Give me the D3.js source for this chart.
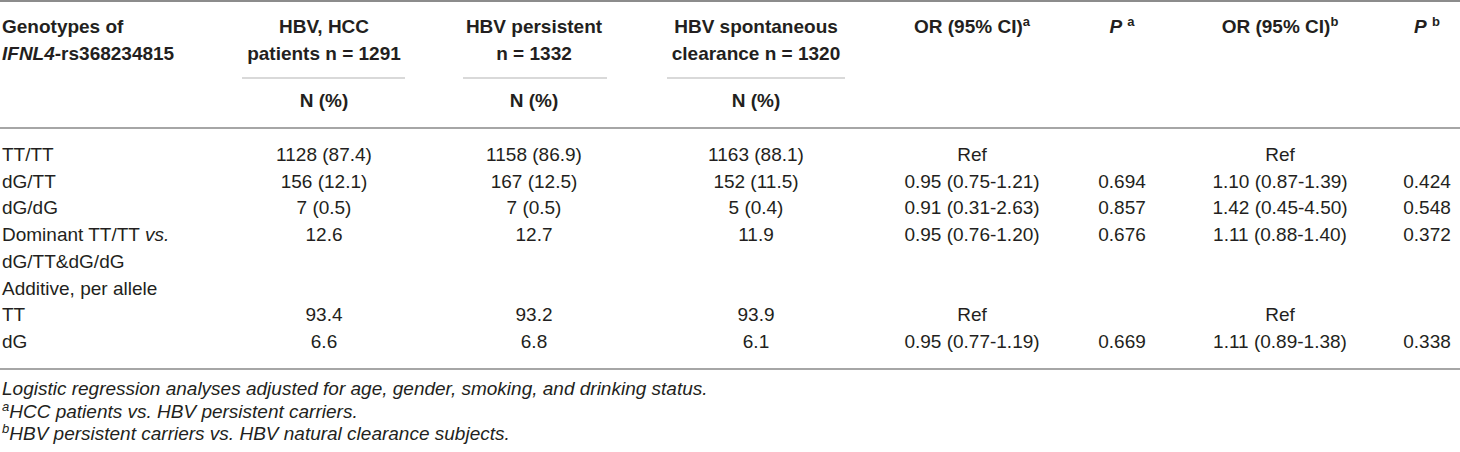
<!DOCTYPE html>
<head>
    <title>IFNL4-rs368234815 genotypes table</title>
    <meta charset="utf-8">
    <style>
        body { margin: 0; background: #fff; }
        text { font-family: "Liberation Sans", Arial, sans-serif; fill: #231f20; }
    </style>
</head>

<body>

<div id="chart"></div>

<script src="https://d3js.org/d3.v7.min.js"></script>

<script>

var width = 1460,
    height = 452;

// Row labels (first column)
var rowLabels = ["TT/TT", "dG/TT", "dG/dG", "Dominant TT/TT |vs.|", "dG/TT&dG/dG",
                 "Additive, per allele", "TT", "dG"];

// Group counts, N (%)
var hccValues = ["1128 (87.4)", "156 (12.1)", "7 (0.5)", "12.6", "", "", "93.4", "6.6"];
var persistentValues = ["1158 (86.9)", "167 (12.5)", "7 (0.5)", "12.7", "", "", "93.2", "6.8"];
var clearanceValues = ["1163 (88.1)", "152 (11.5)", "5 (0.4)", "11.9", "", "", "93.9", "6.1"];

// Odds ratios and P values
var orA = ["Ref", "0.95 (0.75-1.21)", "0.91 (0.31-2.63)", "0.95 (0.76-1.20)", "", "", "Ref", "0.95 (0.77-1.19)"];
var pA = ["", "0.694", "0.857", "0.676", "", "", "", "0.669"];
var orB = ["Ref", "1.10 (0.87-1.39)", "1.42 (0.45-4.50)", "1.11 (0.88-1.40)", "", "", "Ref", "1.11 (0.89-1.38)"];
var pB = ["", "0.424", "0.548", "0.372", "", "", "", "0.338"];

// Column headers: key, line 1, line 2
var columnKeys = ["hcc", "persistent", "clearance", "orA", "pA", "orB", "pB"];
var headerLine1 = ["HBV, HCC", "HBV persistent", "HBV spontaneous", "OR (95% CI)^a", "|P| ^a", "OR (95% CI)^b", "|P| ^b"];
var headerLine2 = ["patients n = 1291", "n = 1332", "clearance n = 1320", "", "", "", ""];
var subHeader = ["N (%)", "N (%)", "N (%)"];

// footnotes are set in italics
var footnotes = [
    "Logistic regression analyses adjusted for age, gender, smoking, and drinking status.",
    "^aHCC patients vs. HBV persistent carriers.",
    "^bHBV persistent carriers vs. HBV natural clearance subjects."
];

var columns = [hccValues, persistentValues, clearanceValues, orA, pA, orB, pB];

var svg = d3.select("#chart").append("svg")
    .attr("width", width)
    .attr("height", height);

// Scales
var x = d3.scaleOrdinal()
    .domain(columnKeys)
    .range([324, 534, 756, 972, 1122, 1280, 1427]);

// underline extents of the grouped columns
var spanX = d3.scaleOrdinal()
    .domain(["hcc", "persistent", "clearance"])
    .range([[242, 405], [463, 607], [667, 845]]);

var y = d3.scaleLinear()
    .domain([0, rowLabels.length - 1])
    .range([161, 348]);

var footY = d3.scaleLinear()
    .domain([0, footnotes.length - 1])
    .range([395, 440]);

var fontSize = 19;

// Write a string with simple markup: |...| toggles italic, ^x makes superscript x
function richText(sel, str, italicBase) {
    var italic = !!italicBase;
    var i = 0, buf = "", shift = 0;
    function flush() {
        if (buf) {
            var t = sel.append("tspan").style("font-style", italic ? "italic" : "normal").text(buf);
            if (shift) { t.attr("dy", shift); shift = 0; }
        }
        buf = "";
    }
    while (i < str.length) {
        var c = str[i];
        if (c === "|") { flush(); italic = !italic; i++; }
        else if (c === "^") {
            flush();
            sel.append("tspan")
                .attr("dy", -7)
                .style("font-size", "13px")
                .style("font-style", italic ? "italic" : "normal")
                .text(str[i + 1]);
            shift = 7;
            i += 2;
        }
        else { buf += c; i++; }
    }
    flush();
}

// Rules
function hline(x1, x2, yy, color, w) {
    svg.append("line")
        .attr("x1", x1).attr("x2", x2)
        .attr("y1", yy).attr("y2", yy)
        .attr("stroke", color)
        .attr("stroke-width", w);
}

hline(0, width, 1, "#8c8c8c", 2);
hline(0, width, 128, "#a6a6a6", 2);
hline(0, width, 369, "#a6a6a6", 2);

svg.selectAll(".underline")
    .data(["hcc", "persistent", "clearance"])
    .enter().append("line")
    .attr("class", "underline")
    .attr("x1", function(d) { return spanX(d)[0]; })
    .attr("x2", function(d) { return spanX(d)[1]; })
    .attr("y1", 78).attr("y2", 78)
    .attr("stroke", "#b3b3b3")
    .attr("stroke-width", 1.2);

// Header
var head = svg.append("g").style("font-weight", "bold").style("font-size", fontSize + "px");

head.append("text").attr("x", 2).attr("y", 33).text("Genotypes of");
var h2 = head.append("text").attr("x", 2).attr("y", 60);
richText(h2, "|IFNL4|-rs368234815");

head.selectAll(".h1")
    .data(columnKeys)
    .enter().append("text")
    .attr("class", "h1")
    .attr("x", function(d) { return x(d); })
    .attr("y", 33)
    .attr("text-anchor", "middle")
    .each(function(d, i) { richText(d3.select(this), headerLine1[i]); });

head.selectAll(".h2")
    .data(columnKeys.filter(function(d, i) { return headerLine2[i]; }))
    .enter().append("text")
    .attr("class", "h2")
    .attr("x", function(d) { return x(d); })
    .attr("y", 60)
    .attr("text-anchor", "middle")
    .text(function(d, i) { return headerLine2[i]; });

head.selectAll(".sub")
    .data(columnKeys.slice(0, 3))
    .enter().append("text")
    .attr("class", "sub")
    .attr("x", function(d) { return x(d); })
    .attr("y", 107)
    .attr("text-anchor", "middle")
    .text(function(d, i) { return subHeader[i]; });

// Body
var body = svg.append("g").style("font-size", fontSize + "px");

body.selectAll(".label")
    .data(rowLabels)
    .enter().append("text")
    .attr("class", "label")
    .attr("x", 2)
    .attr("y", function(d, i) { return y(i); })
    .each(function(d) { richText(d3.select(this), d); });

var cols = body.selectAll(".col")
    .data(columns)
    .enter().append("g")
    .attr("class", "col");

cols.selectAll("text")
    .data(function(d, ci) {
        return d.map(function(v, ri) { return { v: v, key: columnKeys[ci], row: ri }; })
                .filter(function(c) { return c.v !== ""; });
    })
    .enter().append("text")
    .attr("x", function(d) { return x(d.key); })
    .attr("y", function(d) { return y(d.row); })
    .attr("text-anchor", "middle")
    .text(function(d) { return d.v; });

// Footnotes
svg.append("g").style("font-size", fontSize + "px")
    .selectAll("text")
    .data(footnotes)
    .enter().append("text")
    .attr("x", 2)
    .attr("y", function(d, i) { return footY(i); })
    .each(function(d) { richText(d3.select(this), d, true); });

</script>

</body>
</html>
